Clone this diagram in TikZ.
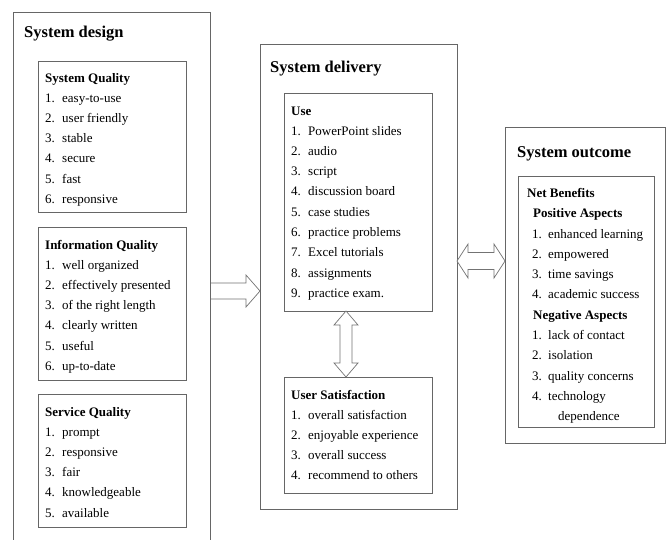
\documentclass[tikz,border=0pt]{standalone}
\usepackage{fontspec}
\setmainfont{Liberation Serif}
\usetikzlibrary{calc}
\newcommand\mylist[5]{%
  \foreach \t [count=\i] in {#5} {
    \node[itm] (#1n\i) at (#2, {#4+20.3*(\i-1)}) {\i.};
    \node[itm] (#1t\i) at (#3, {#4+20.3*(\i-1)}) {\t};
  }}
\begin{document}
\begin{tikzpicture}[x=1pt,y=-1pt,
  outerbox/.style={draw=black!60, line width=1pt, inner sep=0pt, outer sep=0pt, anchor=north west},
  innerbox/.style={draw=black!60, line width=0.9pt, inner sep=0pt, outer sep=0pt, anchor=north west, fill=white},
  hd/.style={font=\fontsize{16.5}{18}\selectfont\bfseries, anchor=base west, inner sep=0pt},
  bt/.style={font=\fontsize{13}{15}\selectfont\bfseries, anchor=base west, inner sep=0pt},
  itm/.style={font=\fontsize{13}{15}\selectfont, anchor=base west, inner sep=0pt},
  blk/.style={draw=black!55, line width=0.7pt, fill=white, line join=miter}
]
\useasboundingbox (0,0) rectangle (669,539);
\fill[white] (0,0) rectangle (669,539);

% ---------- System design ----------
\begin{scope}
\clip (0,0) rectangle (669,539);
\node[outerbox, minimum width=197pt, minimum height=560pt] (design) at (13,12) {};
\end{scope}
\node[hd] (designT) at (24,37) {System design};

\node[innerbox, minimum width=148pt, minimum height=151pt] (sq) at (38,61) {};
\node[bt] (sqT) at (45,82) {System Quality};
\mylist{sq}{45}{62}{102}{easy-to-use,user friendly,stable,secure,fast,responsive}

\node[innerbox, minimum width=148pt, minimum height=153pt] (iq) at (38,227) {};
\node[bt] (iqT) at (45,249) {Information Quality};
\mylist{iq}{45}{62}{269}{well organized,effectively presented,of the right length,clearly written,useful,up-to-date}

\node[innerbox, minimum width=148pt, minimum height=133pt] (svq) at (38,394) {};
\node[bt] (svqT) at (45,416) {Service Quality};
\mylist{svq}{45}{62}{436}{prompt,responsive,fair,knowledgeable,available}

% ---------- System delivery ----------
\node[outerbox, minimum width=197pt, minimum height=465pt] (delivery) at (260,44) {};
\node[hd] (deliveryT) at (270,72) {System delivery};

\node[innerbox, minimum width=148pt, minimum height=218pt] (use) at (284,93) {};
\node[bt] (useT) at (291,115) {Use};
\mylist{use}{291}{308}{135}{PowerPoint slides,audio,script,discussion board,case studies,practice problems,Excel tutorials,assignments,practice exam.}

\node[innerbox, minimum width=148pt, minimum height=116pt] (us) at (284,377) {};
\node[bt] (usT) at (291,399) {User Satisfaction};
\mylist{us}{291}{308}{419}{overall satisfaction,enjoyable experience,overall success,recommend to others}

% ---------- System outcome ----------
\node[outerbox, minimum width=160pt, minimum height=316pt] (outcome) at (505,127) {};
\node[hd] (outcomeT) at (517,157) {System outcome};

\node[innerbox, minimum width=136pt, minimum height=251pt] (nb) at (518,176) {};
\node[bt] (nbT) at (527,197) {Net Benefits};
\node[bt] (posT) at (533,217.5) {Positive Aspects};
\mylist{pos}{532}{548}{238}{enhanced learning,empowered,time savings,academic success}
\node[bt] (negT) at (533,319) {Negative Aspects};
\mylist{neg}{532}{548}{339.5}{lack of contact,isolation,quality concerns,technology}
\node[itm] (negT4b) at (558,420.5) {dependence};

% ---------- block arrows ----------
\coordinate (a1s) at (design.north east |- 0,291);
\coordinate (a1e) at (delivery.north west |- 0,291);
\draw[blk] ($(a1s)+(1,-8)$) -- ($(a1e)+(-14,-8)$) -- ($(a1e)+(-14,-16)$) -- (a1e)
  -- ($(a1e)+(-14,16)$) -- ($(a1e)+(-14,8)$) -- ($(a1s)+(1,8)$);

\coordinate (a2s) at (delivery.north east |- 0,261);
\coordinate (a2e) at (outcome.north west |- 0,261);
\draw[blk] (a2s) -- ($(a2s)+(11,-17)$) -- ($(a2s)+(11,-8.5)$) -- ($(a2e)+(-11,-8.5)$)
  -- ($(a2e)+(-11,-17)$) -- (a2e) -- ($(a2e)+(-11,17)$) -- ($(a2e)+(-11,8.5)$)
  -- ($(a2s)+(11,8.5)$) -- ($(a2s)+(11,17)$) -- cycle;

\coordinate (a3s) at (use.south west -| 346,0);
\coordinate (a3e) at (us.north west -| 346,0);
\draw[blk] (a3s) -- ($(a3s)+(12,14)$) -- ($(a3s)+(6,14)$) -- ($(a3e)+(6,-14)$)
  -- ($(a3e)+(12,-14)$) -- (a3e) -- ($(a3e)+(-12,-14)$) -- ($(a3e)+(-6,-14)$)
  -- ($(a3s)+(-6,14)$) -- ($(a3s)+(-12,14)$) -- cycle;
\end{tikzpicture}
\end{document}
